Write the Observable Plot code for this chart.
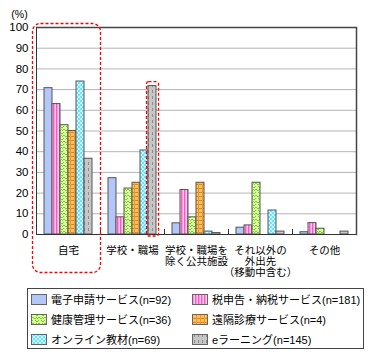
<!DOCTYPE html>
<html><head><meta charset="utf-8">
<script src="https://cdn.jsdelivr.net/npm/d3@7"></script>
<script src="https://cdn.jsdelivr.net/npm/@observablehq/plot@0.6"></script>
<style>
body{margin:0;background:#fff;font-family:"Liberation Sans","Noto Sans CJK JP",sans-serif;}
#wrap{position:relative;width:369px;height:355px;overflow:hidden;}
#legend{position:absolute;left:27px;top:288px;width:337px;height:61px;box-sizing:border-box;border:1px solid #444;display:grid;grid-template-columns:161px 1fr;grid-auto-rows:20px;padding-left:3px;font-size:11px;color:#000;}
.item{display:flex;align-items:center;white-space:nowrap;}
.item svg{margin-right:4px;flex:none;}
</style></head>
<body><div id="wrap">
<svg width="0" height="0" style="position:absolute">
<defs>
<pattern id="p0" width="4" height="4" patternUnits="userSpaceOnUse"><rect width="4" height="4" fill="#b4c7f9"/></pattern>
<pattern id="p1" width="3" height="3" patternUnits="userSpaceOnUse"><rect width="3" height="3" fill="#ff99dd"/><rect x="0" width="1" height="3" fill="#ee5fc4"/><rect x="2" width="1" height="3" fill="#ffc6ee"/></pattern>
<pattern id="p2" width="6" height="6" patternUnits="userSpaceOnUse"><rect width="6" height="6" fill="#d4ff99"/><path d="M0,5 L2,3 L4,5 L6,3 M0,2 L2,0 M4,0 L6,2" stroke="#86c83c" stroke-width="1" fill="none"/></pattern>
<pattern id="p3" width="4" height="4" patternUnits="userSpaceOnUse"><rect width="4" height="4" fill="#ffbe5c"/><rect y="0" width="4" height="1" fill="#dd8a1c"/><rect x="0" width="1" height="4" fill="#e89a33"/></pattern>
<pattern id="p4" width="4" height="4" patternUnits="userSpaceOnUse"><rect width="4" height="4" fill="#6fe2ff"/><rect x="0" y="0" width="2" height="2" fill="#c6f5ff"/><rect x="2" y="2" width="2" height="2" fill="#c6f5ff"/></pattern>
<pattern id="p5" width="4" height="6" patternUnits="userSpaceOnUse"><rect width="4" height="6" fill="#c6c6c6"/><rect x="2" y="0" width="1" height="3" fill="#8c8c8c"/></pattern>
</defs>
</svg>
<div id="chart"></div>
<div id="legend"></div>
</div>
<script>
const groups = ["自宅", "学校・職場", "学校・職場を除く公共施設", "それ以外の外出先（移動中含む）", "その他"];
const groupLabels = ["自宅", "学校・職場", "学校・職場を\n除く公共施設", "それ以外の\n外出先\n（移動中含む）", "その他"];
const series = ["電子申請サービス(n=92)", "税申告・納税サービス(n=181)", "健康管理サービス(n=36)", "遠隔診療サービス(n=4)", "オンライン教材(n=69)", "eラーニング(n=145)"];
const denshiShinsei = [70.7, 27.2, 5.4, 3.3, 1.1];
const zeiShinkoku = [63.0, 8.3, 21.5, 4.4, 5.5];
const kenkoKanri = [52.8, 22.2, 8.3, 25.0, 2.8];
const enkakuShinryo = [50.0, 25.0, 25.0, 0, 0];
const onlineKyozai = [73.9, 40.6, 1.4, 11.6, 0];
const eLearning = [36.6, 71.7, 0.7, 1.4, 1.4];
const seriesValues = [denshiShinsei, zeiShinkoku, kenkoKanri, enkakuShinryo, onlineKyozai, eLearning];
const yTicks = [0, 10, 20, 30, 40, 50, 60, 70, 80, 90, 100];
const gridTicks = [10, 20, 30, 40, 50, 60, 70, 80, 90];
const highlightGroup = groups[0];
const highlightBar = {group: groups[1], series: series[5]};

const data = series.flatMap((s, i) => groups.map((g, j) => ({series: s, group: g, value: seriesValues[i][j]})));
const groupRows = groups.map((g, i) => ({group: g, label: groupLabels[i]}));
const patternIds = series.map((_, i) => `url(#p${i})`);

const chart = Plot.plot({
  width: 369, height: 284,
  marginLeft: 34, marginRight: 12, marginTop: 27, marginBottom: 50,
  style: {fontFamily: '"Liberation Sans","Noto Sans CJK JP",sans-serif', fontSize: "11.5px", color: "#000", background: "#fff"},
  fx: {domain: groups, padding: 0, axis: null, label: null},
  x: {domain: series, paddingInner: 0, paddingOuter: 0.72, axis: null, label: null},
  y: {domain: [0, 100], ticks: yTicks, tickSize: 0, tickPadding: 8, label: null},
  color: {type: "ordinal", domain: series, range: patternIds},
  marks: [
    Plot.ruleY(gridTicks, {stroke: "#b4b4b4", strokeWidth: 1}),
    Plot.barY(data, {fx: "group", x: "series", y: "value", fill: "series", stroke: "#555", strokeWidth: 1, filter: d => d.value > 0}),
    Plot.ruleY([0], {stroke: "#333", strokeWidth: 1.2}),
    Plot.ruleY([100], {stroke: "#444", strokeWidth: 1.5}),
    Plot.frame({anchor: "left", insetTop: 202, stroke: "#333"}),
    Plot.frame({anchor: "left", fx: () => groups[0], stroke: "#333"}),
    Plot.frame({anchor: "right", fx: () => groups[groups.length - 1], stroke: "#444", strokeWidth: 1.5}),
    Plot.frame({fx: () => highlightGroup, stroke: "#ff0000", strokeWidth: 1.3, strokeDasharray: "3,2", rx: 8, insetLeft: -4, insetTop: -4, insetBottom: -38, insetRight: 0}),
    Plot.barY(data, {filter: d => d.group === highlightBar.group && d.series === highlightBar.series, fx: "group", x: "series", y: "value", fill: "none", stroke: "#ff0000", strokeWidth: 1.3, strokeDasharray: "3,2", insetLeft: -1.5, insetRight: -2.5, insetTop: -4, insetBottom: -2, rx: 2}),
    Plot.text(groupRows, {fx: "group", text: "label", frameAnchor: "bottom", lineAnchor: "top", dy: 11, fontSize: 10.5, lineHeight: 1.08, fill: "#000"}),
    Plot.text(["(%)"], {fx: () => groups[0], text: d => d, frameAnchor: "top-left", dx: -17, dy: -17, textAnchor: "middle", fontSize: 10.5, fill: "#000"})
  ]
});
document.getElementById("chart").appendChild(chart);

const legend = document.getElementById("legend");
series.forEach((s, i) => {
  const item = document.createElement("div");
  item.className = "item";
  item.innerHTML = `<svg width="16" height="11"><rect x="0.5" y="0.5" width="15" height="10" fill="${patternIds[i]}" stroke="#666"/></svg><span>${s}</span>`;
  legend.appendChild(item);
});
</script>
</body></html>
